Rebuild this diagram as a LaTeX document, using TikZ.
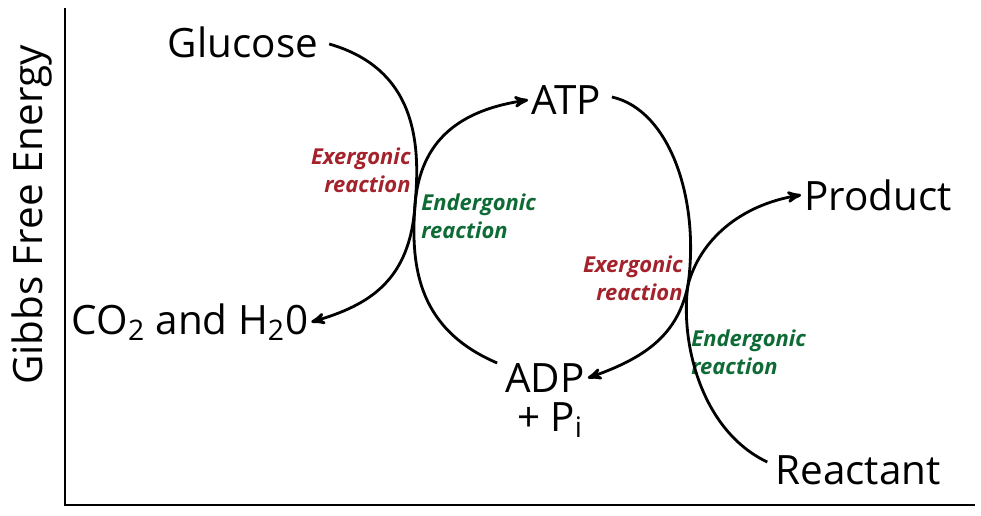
\documentclass[tikz,border=0pt]{standalone}
\usepackage{fontspec}
\setmainfont{Open Sans}
\usepackage{tikz}
\usetikzlibrary{arrows}
\definecolor{exred}{HTML}{A3222B}
\definecolor{engreen}{HTML}{0F6B36}

\begin{document}
\begin{tikzpicture}[x=0.02cm,y=-0.02cm,->,>=stealth',line width=1.6pt,
	big node/.style={font=\fontsize{23}{26}\selectfont,inner sep=1pt},
	ex node/.style={font=\fontsize{12.5}{16}\selectfont\bfseries\itshape,text=exred,align=right,inner sep=0pt},
	en node/.style={font=\fontsize{12.5}{16}\selectfont\bfseries\itshape,text=engreen,align=left,inner sep=0pt}]
	\useasboundingbox (0,0) rectangle (981,516);
	
	% axes
	\draw[-,line width=1pt] (65,8) -- (65,505) -- (975,505);
	\node[big node,rotate=90] (axis) at (32,215) {Gibbs Free Energy};
	
	\node[big node] (glucose) at (243,42) {Glucose};
	\node[big node] (atp) at (566,100) {ATP};
	\node[big node] (product) at (878,195) {Product};
	\node[big node] (co2) at (190,322) {CO\textsubscript{2} and H\textsubscript{2}0};
	\node[big node] (adp) at (545,378) {ADP};
	\node[big node] (pi) at (550,420) {+ P\textsubscript{i}};
	\node[big node] (reactant) at (858,470) {Reactant};
	
	\node[ex node,anchor=east] (ex1) at (412,170) {Exergonic\\reaction};
	\node[en node,anchor=west] (en1) at (420,216) {Endergonic\\reaction};
	\node[ex node,anchor=east] (ex2) at (684,278) {Exergonic\\reaction};
	\node[en node,anchor=west] (en2) at (690,352) {Endergonic\\reaction};
	
	\draw[arrows={-stealth'[scale=1.4]}] (glucose.east) ++(8,2) .. controls (420,70) and (420,150) .. (415,205)
		.. controls (410,280) and (370,305) .. (co2.east);
	\draw[arrows={-stealth'[scale=1.4]}] (adp.west) ++(-5,-15) .. controls (420,330) and (410,270) .. (415,205)
		.. controls (420,140) and (460,110) .. (atp.west);
	\draw[arrows={-stealth'[scale=1.4]}] (atp.east) ++(8,-3) .. controls (670,110) and (700,200) .. (688,285)
		.. controls (678,335) and (645,358) .. (adp.east);
	\draw[arrows={-stealth'[scale=1.4]}] (reactant.west) ++(-5,-8) .. controls (700,430) and (680,340) .. (688,285)
		.. controls (700,240) and (740,205) .. (product.west);
\end{tikzpicture}
\end{document}
